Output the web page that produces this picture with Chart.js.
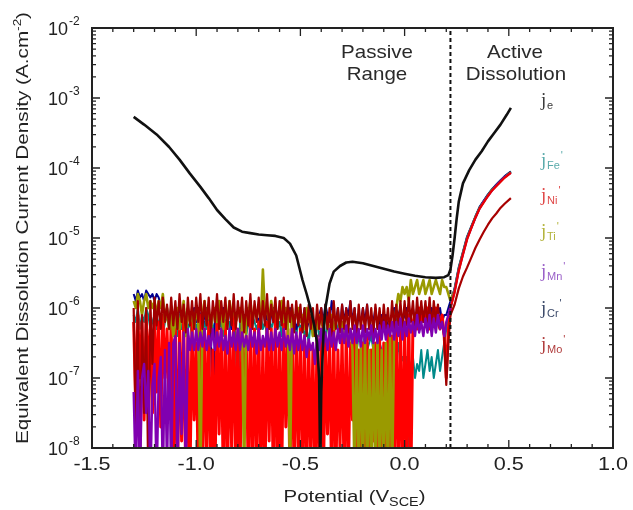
<!DOCTYPE html>
<html>
<head>
<meta charset="utf-8">
<script src="https://cdn.jsdelivr.net/npm/chart.js@4/dist/chart.umd.min.js"></script>
<style>
html,body{margin:0;padding:0;background:#fff}
</style>
</head>
<body>
<canvas id="grafico" width="633" height="510"></canvas>
<script>

// varredura passiva: -1.30 V ate 0.22 V, passo 0.01 V (valores em log10 A/cm2)
const E0=-1.30
const dE=0.01

const feLog=[
-6.1,-6.2,-6.0,-6.3,-6.1,-6.2,-6.0,-6.1,-6.3,-6.2,
-6.1,-6.3,-6.2,-6.1,-6.4,-6.2,-6.1,-6.3,-6.2,-6.1,
-6.2,-6.4,-6.1,-6.3,-6.2,-6.1,-6.3,-6.2,-6.4,-6.1,
-6.3,-6.2,-6.1,-6.4,-6.2,-6.3,-6.1,-6.2,-6.3,-6.2,
-6.1,-6.3,-6.2,-6.4,-6.1,-8.5,-6.2,-6.3,-6.1,-6.4,
-8.5,-6.2,-6.3,-6.1,-6.4,-6.2,-6.3,-6.1,-6.2,-6.3,
-6.2,-6.1,-6.3,-6.2,-6.4,-6.1,-6.3,-6.2,-6.1,-6.3,
-6.2,-6.4,-6.1,-6.3,-6.2,-6.1,-6.3,-6.2,-6.4,-6.2,
-6.3,-6.2,-6.4,-6.3,-6.5,-6.2,-6.4,-6.3,-6.2,-6.4,
-6.3,-8.5,-6.4,-6.2,-6.5,-6.3,-6.4,-6.2,-6.3,-6.5,
-6.4,-6.3,-6.5,-6.4,-6.3,-6.5,-6.4,-6.6,-6.4,-6.5,
-6.5,-6.4,-6.6,-6.5,-6.4,-6.6,-6.5,-6.7,-6.5,-6.6,
-6.6,-6.5,-6.7,-6.6,-6.8,-6.6,-6.7,-6.5,-6.8,-6.7,
-6.8,-6.7,-8.5,-6.8,-6.7,-7.0,-6.8,-6.9,-6.6,-7.0,
-6.8,-6.6,-6.9,-6.7,-7.0,-6.8,-6.6,-6.9,-6.7,-6.5,
-6.3,-6.1,-6.0]

const niLog=[
-6.2,-7.4,-6.1,-7.0,-6.2,-7.6,-6.1,-6.9,-6.3,-7.5,
-6.1,-7.2,-6.2,-7.7,-6.1,-7.0,-6.3,-7.4,-6.2,-8.5,
-6.3,-8.5,-6.2,-7.9,-6.1,-8.5,-6.4,-8.5,-6.2,-7.6,
-6.5,-8.5,-6.1,-8.5,-6.3,-8.2,-6.2,-8.5,-6.6,-8.5,
-6.1,-7.8,-6.3,-8.5,-6.2,-8.5,-6.4,-8.0,-6.1,-8.5,
-6.3,-8.5,-6.2,-7.5,-6.4,-8.5,-6.1,-8.5,-6.3,-8.3,
-6.2,-8.5,-6.5,-8.5,-6.2,-7.9,-6.3,-8.5,-6.1,-8.5,
-6.4,-8.5,-6.2,-7.7,-6.3,-8.5,-6.2,-8.5,-6.4,-8.1,
-6.3,-8.5,-6.4,-8.5,-6.5,-8.2,-6.6,-8.5,-6.4,-8.5,
-6.3,-8.5,-6.5,-7.8,-6.4,-8.5,-6.3,-8.5,-6.6,-8.0,
-6.4,-8.5,-6.3,-8.5,-6.5,-7.6,-6.4,-8.5,-6.6,-8.5,
-6.5,-8.2,-6.4,-8.5,-6.6,-7.9,-6.5,-8.5,-6.4,-8.5,
-6.5,-8.5,-6.3,-8.0,-6.4,-8.5,-6.2,-8.5,-6.3,-8.5,
-6.2,-8.5,-6.1,-8.5,-6.2,-6.1,-6.3,-6.0,-6.2,-6.1,
-6.2,-6.0,-6.3,-6.1,-6.2,-6.0,-6.2,-6.3,-6.1,-6.4,
-7.0,-6.3,-6.0]

const tiLog=[
-5.9,-6.0,-5.8,-5.9,-6.1,-5.9,-5.8,-6.0,-5.9,-6.0,
-5.9,-6.1,-5.9,-6.0,-5.8,-6.2,-6.0,-6.3,-6.1,-6.4,
-6.2,-6.0,-6.3,-6.1,-5.9,-6.4,-6.0,-6.2,-6.1,-6.3,
-6.0,-6.2,-8.5,-6.1,-5.9,-6.2,-6.0,-6.3,-6.1,-6.0,
-6.2,-5.9,-6.1,-6.3,-6.0,-6.2,-5.9,-6.1,-6.0,-6.2,
-6.1,-6.0,-6.2,-8.5,-6.0,-6.1,-5.9,-6.2,-6.0,-6.1,
-6.0,-6.2,-5.45,-6.1,-6.0,-6.2,-5.9,-6.1,-6.0,-6.2,
-6.1,-5.9,-6.2,-6.0,-6.1,-8.5,-6.0,-6.2,-6.1,-6.0,
-6.2,-6.1,-6.3,-6.0,-6.2,-6.1,-6.4,-6.2,-6.3,-6.1,
-6.2,-6.3,-6.1,-6.2,-6.4,-6.1,-6.3,-6.2,-6.1,-6.3,
-6.2,-6.4,-6.3,-6.5,-6.3,-6.6,-8.5,-6.4,-8.5,-6.5,
-8.5,-6.4,-8.5,-6.6,-8.5,-6.5,-8.5,-6.4,-8.5,-6.6,
-8.5,-6.5,-8.5,-6.4,-8.5,-6.3,-6.0,-5.8,-5.9,-5.7,
-5.8,-5.7,-5.9,-5.6,-5.8,-5.7,-5.6,-5.8,-5.7,-5.6,
-5.8,-5.7,-5.6,-5.8,-5.7,-5.6,-5.7,-5.8,-5.6,-5.7,
-5.7,-5.8,-5.9]

const mnLog=[
-7.2,-8.5,-6.9,-8.5,-7.0,-6.8,-7.5,-6.9,-8.5,-7.1,
-6.8,-8.5,-7.0,-6.7,-8.5,-6.6,-8.3,-6.5,-8.5,-6.5,
-6.4,-8.5,-6.5,-7.8,-6.35,-8.5,-6.3,-6.6,-6.35,-6.6,
-6.3,-6.6,-6.35,-6.55,-6.3,-6.6,-6.4,-6.55,-6.3,-6.6,
-6.35,-6.55,-6.3,-6.6,-6.4,-6.65,-6.3,-6.55,-6.35,-6.6,
-6.3,-6.6,-6.35,-6.55,-6.4,-6.6,-6.3,-6.55,-6.35,-6.65,
-6.3,-6.6,-6.4,-6.55,-6.3,-6.6,-6.35,-6.6,-6.3,-6.55,
-6.35,-6.6,-6.3,-6.55,-6.4,-6.6,-6.3,-6.65,-6.35,-6.6,
-6.35,-6.6,-6.4,-6.7,-6.45,-6.6,-6.5,-6.8,-6.4,-6.6,
-6.3,-6.55,-6.35,-6.6,-6.3,-6.55,-6.35,-6.6,-6.3,-6.5,
-6.3,-6.5,-6.25,-6.55,-6.3,-6.5,-6.25,-6.5,-6.3,-6.55,
-6.25,-6.5,-6.3,-6.45,-6.25,-6.5,-6.3,-6.5,-6.25,-6.45,
-6.2,-6.45,-6.25,-6.4,-6.2,-6.45,-6.2,-6.4,-6.15,-6.45,
-6.2,-6.4,-6.15,-6.35,-6.2,-6.4,-6.1,-6.35,-6.2,-6.4,
-6.15,-6.35,-6.1,-6.4,-6.15,-6.35,-6.1,-6.3,-6.2,-6.4,
-6.2,-6.1,-6.0]

const crLog=[
-5.8,-5.9,-5.75,-5.85,-5.8,-5.9,-5.75,-5.8,-5.85,-5.8,
-5.9,-5.8,-5.85,-6.0,-5.9,-6.1,-6.0,-6.2,-6.0,-6.1,
-6.1,-6.2,-6.0,-6.1,-6.3,-6.1,-6.0,-6.2,-6.1,-6.0,
-6.2,-6.0,-6.1,-6.3,-6.1,-6.0,-6.2,-6.1,-8.5,-6.1,
-6.0,-6.2,-6.1,-6.0,-6.2,-6.1,-6.0,-6.3,-6.1,-6.2,
-6.1,-6.0,-6.2,-6.1,-6.3,-6.0,-6.1,-6.2,-6.0,-6.1,
-6.2,-6.1,-6.0,-6.2,-6.1,-6.3,-6.1,-6.0,-6.2,-6.1,
-6.0,-6.2,-6.1,-6.3,-6.1,-6.0,-6.2,-6.1,-6.3,-6.2,
-6.1,-6.2,-6.0,-6.3,-6.2,-6.1,-6.3,-6.4,-6.2,-6.1,
-6.0,-6.2,-5.95,-6.1,-6.2,-5.9,-6.1,-6.2,-6.0,-6.3,
-5.95,-6.2,-6.0,-6.1,-5.9,-6.2,-6.0,-6.3,-6.1,-6.2,
-6.0,-6.2,-5.95,-6.3,-6.1,-6.2,-6.0,-6.3,-6.2,-6.1,
-6.2,-6.1,-6.3,-6.2,-6.1,-6.0,-6.2,-6.1,-6.0,-6.2,
-6.1,-6.0,-6.2,-6.1,-6.0,-6.2,-6.1,-6.0,-6.1,-6.2,
-6.0,-6.1,-6.2,-6.0,-6.1,-6.2,-6.1,-6.0,-6.2,-6.1,
-6.1,-6.0,-5.9]

const moLog=[
-6.0,-7.8,-5.9,-8.5,-6.1,-7.5,-6.0,-8.5,-5.9,-6.8,
-5.85,-6.25,-5.9,-6.3,-5.85,-6.2,-5.95,-6.3,-5.85,-6.25,
-5.9,-6.3,-5.8,-6.2,-5.95,-6.35,-5.85,-6.25,-5.9,-6.3,
-5.85,-6.2,-5.8,-6.3,-5.9,-6.25,-5.85,-6.35,-5.9,-6.2,
-5.8,-6.3,-5.9,-6.2,-5.85,-6.3,-5.9,-6.25,-5.8,-6.3,
-5.9,-6.2,-5.85,-6.35,-5.9,-6.25,-5.8,-6.3,-5.9,-6.2,
-5.85,-6.3,-5.9,-6.25,-5.8,-6.3,-5.95,-6.2,-5.85,-6.3,
-5.9,-6.25,-5.85,-6.3,-5.9,-6.2,-5.95,-6.35,-5.9,-6.25,
-5.95,-6.35,-6.0,-6.4,-5.95,-6.3,-6.0,-6.4,-5.95,-6.3,
-6.0,-6.35,-5.95,-6.3,-6.0,-6.4,-5.9,-6.3,-6.0,-6.35,
-5.95,-6.3,-6.0,-6.35,-5.9,-6.3,-6.0,-6.4,-5.95,-6.3,
-6.0,-6.35,-5.95,-6.3,-6.0,-6.4,-5.95,-6.3,-6.0,-6.35,
-5.95,-6.3,-6.0,-6.35,-5.9,-6.3,-5.95,-6.25,-5.9,-6.3,
-5.9,-6.25,-5.85,-6.2,-5.9,-6.3,-5.85,-6.25,-5.9,-6.2,
-5.9,-6.25,-5.85,-6.3,-5.9,-6.2,-5.95,-6.3,-6.2,-6.4,
-7.1,-6.5,-6.1]

// dissolucao ativa (log10)
const actE=[0.24,0.26,0.28,0.30,0.32,0.34,0.36,0.38,0.40,0.42,0.44,0.46,0.48,0.51]
const feAct=[-5.72,-5.42,-5.20,-4.98,-4.84,-4.69,-4.56,-4.47,-4.38,-4.30,-4.24,-4.18,-4.12,-4.05]
const niAct=[-5.78,-5.47,-5.24,-5.02,-4.86,-4.71,-4.58,-4.49,-4.40,-4.32,-4.26,-4.20,-4.14,-4.07]
const tiAct=[-5.74,-5.44,-5.21,-5.00,-4.85,-4.70,-4.57,-4.48,-4.39,-4.31,-4.25,-4.19,-4.13,-4.06]
const mnAct=[-5.76,-5.46,-5.23,-5.01,-4.86,-4.71,-4.58,-4.48,-4.40,-4.32,-4.25,-4.19,-4.13,-4.07]
const crAct=[-5.73,-5.43,-5.21,-4.99,-4.84,-4.70,-4.56,-4.47,-4.38,-4.31,-4.24,-4.18,-4.12,-4.05]
const moAct=[-5.95,-5.72,-5.55,-5.42,-5.28,-5.14,-5.02,-4.91,-4.81,-4.72,-4.65,-4.57,-4.51,-4.43]

// corrente total je
const eE=[-1.30,-1.25,-1.19,-1.13,-1.08,-1.03,-0.98,-0.94,-0.90,-0.86,-0.82,-0.78,-0.74,-0.70,-0.66,-0.62,-0.58,-0.55,-0.52,-0.49,-0.47,-0.45,-0.43,-0.42,-0.41,-0.405,-0.40,-0.39,-0.38,-0.36,-0.34,-0.31,-0.28,-0.25,-0.20,-0.15,-0.10,-0.05,0.00,0.05,0.10,0.15,0.19,0.21,0.22,0.23,0.24,0.25,0.26,0.28,0.31,0.34,0.37,0.40,0.43,0.46,0.49,0.51]
const eLog=[-3.27,-3.38,-3.52,-3.70,-3.88,-4.08,-4.27,-4.43,-4.60,-4.73,-4.85,-4.91,-4.93,-4.95,-4.96,-4.97,-5.00,-5.08,-5.25,-5.60,-5.80,-6.02,-6.30,-6.50,-7.00,-8.30,-7.20,-6.40,-6.00,-5.65,-5.48,-5.40,-5.35,-5.34,-5.36,-5.40,-5.44,-5.48,-5.51,-5.54,-5.56,-5.57,-5.56,-5.53,-5.45,-5.25,-5.00,-4.72,-4.48,-4.22,-4.03,-3.88,-3.76,-3.62,-3.50,-3.38,-3.24,-3.14]

const eLimite=0.22
const xTicks=[-1.5,-1.0,-0.5,0.0,0.5,1.0]
const yExp=[-8,-7,-6,-5,-4,-3,-2]

const nomes=['e','Fe','Ni','Ti','Mn','Cr','Mo']

function passivo(logs){
return logs.map((v,i)=>({x:+(E0+dE*i).toFixed(2),y:Math.pow(10,v)}))
}
function ativo(logs,pass){
let ini=pass[pass.length-1]
return [ini].concat(actE.map((e,i)=>({x:e,y:Math.pow(10,logs[i])})))
}

let fe=passivo(feLog),ni=passivo(niLog),ti=passivo(tiLog),mn=passivo(mnLog),cr=passivo(crLog),mo=passivo(moLog)

function ds(data,cor,w){
return {data:data,borderColor:cor,borderWidth:w||1.8,pointRadius:0,tension:0,fill:false,borderJoinStyle:'round'}
}

// o primeiro dataset fica por cima
let datasets=[
ds(eE.map((e,i)=>({x:e,y:Math.pow(10,eLog[i])})),'#111',2.6),
Object.assign(ds([{x:eLimite,y:1e-8},{x:eLimite,y:1e-2}],'#111',2),{borderDash:[4,3]}),
ds(ativo(moAct,mo),'#a80000',2.2),
ds(ativo(niAct,ni),'#e80000',2.2),
ds(ativo(mnAct,mn),'#8a00b0',2.2),
ds(ativo(tiAct,ti),'#9a9a00',2.2),
ds(ativo(crAct,cr),'#000090',2.2),
ds(ativo(feAct,fe),'#008a8a',2.2),
ds(mn,'#8000b0',2.4),
ds(mo,'#a00000',2.2),
ds(ti,'#9a9a00',2.6),
ds(ni,'#ff0000',3),
ds(cr,'#000090',2),
ds(fe,'#008a8a',2)
]

const fonte='"Liberation Sans", Arial, sans-serif'

function textoEsticado(c,txt,x,y,esc){
c.save()
c.translate(x,y)
c.scale(esc,1)
c.fillText(txt,0,0)
c.restore()
}

const desenho={
id:'desenho',
afterDraw(ch){
let c=ch.ctx,a=ch.chartArea,sx=ch.scales.x,sy=ch.scales.y
c.save()
c.strokeStyle='#222'
c.fillStyle='#222'

// ticks para dentro
c.lineWidth=1.3
c.beginPath()
for(let k=-15;k<=10;k++){
let px=sx.getPixelForValue(k/10)
let len=(k%5==0)?8:4
c.moveTo(px,a.bottom);c.lineTo(px,a.bottom-len)
c.moveTo(px,a.top);c.lineTo(px,a.top+len)
}
for(let d=-8;d<=-2;d++){
for(let m=1;m<=9;m++){
if(d==-2&&m>1)break
let py=sy.getPixelForValue(m*Math.pow(10,d))
let len=(m==1)?8:4
c.moveTo(a.left,py);c.lineTo(a.left+len,py)
c.moveTo(a.right,py);c.lineTo(a.right-len,py)
}
}
c.stroke()

// moldura
c.lineWidth=2
c.strokeRect(a.left,a.top,a.right-a.left,a.bottom-a.top)

// rotulos do eixo x
c.font='18px '+fonte
c.textBaseline='alphabetic'
c.textAlign='center'
xTicks.forEach(v=>{
textoEsticado(c,v.toFixed(1),sx.getPixelForValue(v),a.bottom+22,1.2)
})

// rotulos do eixo y
yExp.forEach(d=>{
let py=sy.getPixelForValue(Math.pow(10,d))
c.font='18px '+fonte
c.textAlign='right'
c.fillText('10',68,py+7)
c.font='12px '+fonte
c.textAlign='left'
c.fillText(String(d),69,py-3)
})

// titulo x
c.font='17px '+fonte
let t1='Potential (V',t2='SCE',t3=')'
let w1=c.measureText(t1).width,w3=c.measureText(t3).width
c.font='12px '+fonte
let w2=c.measureText(t2).width
let esc=1.2,tot=(w1+w2+w3)*esc
let x0=(a.left+a.right)/2-(tot)/2+2,yb=502
c.save()
c.translate(x0,yb);c.scale(esc,1)
c.textAlign='left'
c.font='17px '+fonte;c.fillText(t1,0,0)
c.font='12px '+fonte;c.fillText(t2,w1,4)
c.font='17px '+fonte;c.fillText(t3,w1+w2,0)
c.restore()

// titulo y
c.save()
c.translate(28,228)
c.rotate(-Math.PI/2)
let s1='Equivalent Dissolution Current Density (A.cm',s2='-2',s3=')'
c.font='17px '+fonte
let v1=c.measureText(s1).width,v3=c.measureText(s3).width
c.font='11px '+fonte
let v2=c.measureText(s2).width
let ey=432/(v1+v2+v3)
c.scale(ey,1)
c.translate(-(v1+v2+v3)/2,0)
c.textAlign='left'
c.font='17px '+fonte;c.fillText(s1,0,0)
c.font='11px '+fonte;c.fillText(s2,v1,-7)
c.font='17px '+fonte;c.fillText(s3,v1+v2,0)
c.restore()

// regioes
c.font='19px '+fonte
c.textAlign='center'
c.textBaseline='middle'
c.fillStyle='#2a2a2a'
textoEsticado(c,'Passive',377,53,1.08)
textoEsticado(c,'Range',377,75,1.08)
textoEsticado(c,'Active',515,53,1.08)
textoEsticado(c,'Dissolution',516,75,1.08)

// nomes das correntes
let cores=['#3a3a3a','#5aabab','#e04848','#b4b43c','#9a60c8','#3c4a6a','#b03c3c']
let ys=[101,161,196,232,272,309,345]
c.textBaseline='alphabetic'
c.textAlign='left'
nomes.forEach((n,i)=>{
let y=ys[i]+5
c.fillStyle=cores[i]
c.font='19px "Liberation Serif", serif'
c.fillText('j',541,y)
c.font='11px '+fonte
c.fillText(n,547,y+3)
let wn=c.measureText(n).width
if(i>0){c.fillText("'",548+wn,y-7)}
})

c.restore()
}
}

new Chart(document.getElementById('grafico'),{
type:'line',
data:{datasets:datasets},
options:{
responsive:false,
animation:false,
devicePixelRatio:1,
layout:{padding:{left:92,top:28,right:20,bottom:62}},
plugins:{legend:{display:false},tooltip:{enabled:false}},
scales:{
x:{type:'linear',min:-1.5,max:1.0,display:false},
y:{type:'logarithmic',min:1e-8,max:1e-2,display:false}
}
},
plugins:[desenho]
})

</script>
</body>
</html>
